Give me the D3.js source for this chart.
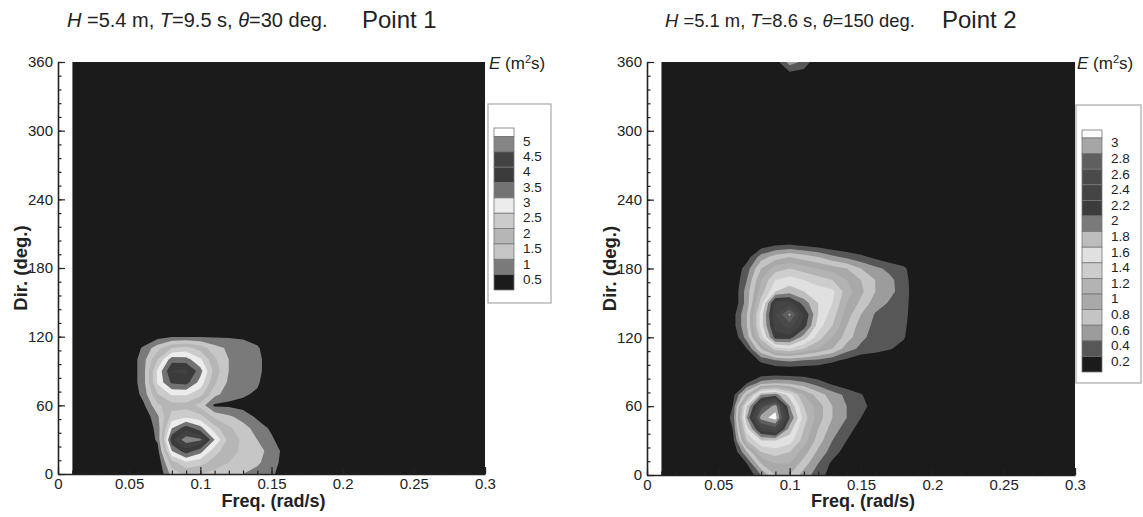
<!DOCTYPE html>
<html lang="en">
<head>
<meta charset="UTF-8">
<title>Directional wave spectra</title>
<script src="https://d3js.org/d3.v7.min.js"></script>
<style>
  body { margin: 0; background: #fff; }
  text { font-family: "Liberation Sans", Arial, sans-serif; fill: #222; }
</style>
</head>
<body>
<script>
// ---- data ----
// spectral energy E (m^2 s) sampled every 0.01 rad/s and every 10 deg; cells not listed are 0
const freq1 = [0.04, 0.05, 0.06, 0.07, 0.08, 0.09, 0.10, 0.11, 0.12, 0.13, 0.14, 0.15, 0.16, 0.17, 0.18];
const dir1 = [120, 110, 100, 90, 80, 70, 60, 50, 40, 30, 20, 10, 0];
const energy1 = [
  [0, 0, 0,   0.3, 0.45, 0.45, 0.45, 0.45, 0.45, 0.4,  0.2, 0,   0,   0, 0],
  [0, 0, 0.6, 1.3, 2.0,  2.2,  1.8,  1.2,  0.9,  0.8,  0.6, 0,   0,   0, 0],
  [0, 0.1, 0.8, 2.0, 3.3, 3.2, 2.6,  1.6,  1.0,  0.8,  0.7, 0.1, 0,   0, 0],
  [0, 0.1, 0.8, 2.6, 4.0, 4.2, 3.2,  1.8,  1.0,  0.8,  0.7, 0.1, 0,   0, 0],
  [0, 0.1, 0.8, 2.6, 3.6, 3.7, 2.8,  1.6,  0.9,  0.75, 0.6, 0,   0,   0, 0],
  [0, 0, 0.7, 2.0, 2.6,  2.6,  2.2,  1.2,  0.7,  0.6,  0.4, 0,   0,   0, 0],
  [0, 0, 0.4, 1.4, 1.8,  1.8,  1.3,  0.4,  0.4,  0.3,  0.1, 0,   0,   0, 0],
  [0, 0, 0.1, 0.9, 2.2,  2.4,  2.2,  1.4,  1.1,  0.8,  0.4, 0.1, 0,   0, 0],
  [0, 0, 0,   0.7, 3.0,  3.8,  3.2,  2.2,  1.6,  1.2,  0.8, 0.4, 0,   0, 0],
  [0, 0, 0,   0.6, 3.9,  4.8,  4.6,  3.0,  1.8,  1.4,  1.0, 0.6, 0.1, 0, 0],
  [0, 0, 0,   0.3, 3.0,  3.8,  3.2,  2.2,  1.7,  1.4,  1.2, 0.8, 0.3, 0, 0],
  [0, 0, 0,   0.1, 1.8,  2.4,  2.2,  1.8,  1.5,  1.3,  1.1, 0.7, 0.3, 0, 0],
  [0, 0, 0,   0,   1.2,  1.6,  1.5,  1.3,  1.1,  1.0,  0.8, 0.6, 0.2, 0, 0]
];

const freq2 = [0.05, 0.06, 0.07, 0.08, 0.09, 0.10, 0.11, 0.12, 0.13, 0.14, 0.15, 0.16, 0.17, 0.18, 0.19];
const dir2 = [360, 350, 200, 190, 180, 170, 160, 150, 140, 130, 120, 110, 100, 80, 70, 60, 50, 40, 30, 20, 10, 0];
const energy2 = [
  [0, 0,    0,   0,    0.1,  0.5,  0.35, 0,    0,    0,    0,    0,    0,    0,    0],
  [0, 0,    0,   0,    0,    0.15, 0.1,  0,    0,    0,    0,    0,    0,    0,    0],
  [0, 0,    0,   0.1,  0.2,  0.22, 0.18, 0.12, 0.06, 0,    0,    0,    0,    0,    0],
  [0, 0,    0.1, 0.5,  0.7,  0.8,  0.7,  0.6,  0.45, 0.35, 0.25, 0.15, 0.05, 0,    0],
  [0, 0,    0.3, 0.8,  1.1,  1.2,  1.1,  1.0,  0.9,  0.8,  0.6,  0.45, 0.35, 0.25, 0],
  [0, 0,    0.4, 1.0,  1.4,  1.5,  1.4,  1.3,  1.2,  1.0,  0.8,  0.6,  0.45, 0.3,  0],
  [0, 0,    0.5, 1.1,  1.6,  1.7,  1.6,  1.5,  1.45, 1.1,  0.85, 0.6,  0.45, 0.32, 0],
  [0, 0,    0.5, 1.3,  2.3,  2.3,  1.9,  1.6,  1.4,  1.0,  0.75, 0.5,  0.38, 0.3,  0],
  [0, 0.1,  0.6, 1.5,  2.4,  2.85, 2.2,  1.6,  1.3,  0.9,  0.6,  0.38, 0.32, 0.28, 0],
  [0, 0.1,  0.6, 1.5,  2.3,  2.5,  2.1,  1.5,  1.2,  0.8,  0.5,  0.35, 0.3,  0.25, 0],
  [0, 0,    0.5, 1.3,  2.1,  2.1,  1.7,  1.3,  1.0,  0.7,  0.45, 0.32, 0.28, 0.22, 0],
  [0, 0,    0.2, 0.8,  1.3,  1.4,  1.2,  1.0,  0.8,  0.5,  0.35, 0.28, 0.22, 0.12, 0],
  [0, 0,    0,   0.25, 0.4,  0.45, 0.4,  0.35, 0.25, 0.15, 0.05, 0.05, 0,    0,    0],
  [0, 0,    0.2, 0.5,  0.6,  0.55, 0.45, 0.3,  0.15, 0.05, 0,    0,    0,    0,    0],
  [0, 0.1,  0.8, 1.8,  1.9,  1.5,  1.0,  0.7,  0.5,  0.35, 0.22, 0.05, 0,    0,    0],
  [0, 0.2,  1.6, 2.5,  2.9,  1.8,  1.2,  0.9,  0.6,  0.4,  0.28, 0.1,  0,    0,    0],
  [0, 0.25, 1.8, 2.9,  3.1,  2.0,  1.3,  0.9,  0.6,  0.4,  0.2,  0,    0,    0,    0],
  [0, 0.2,  1.5, 2.3,  2.5,  1.7,  1.2,  0.8,  0.5,  0.3,  0.1,  0,    0,    0,    0],
  [0, 0.1,  1.2, 1.6,  1.6,  1.5,  1.1,  0.7,  0.4,  0.2,  0,    0,    0,    0,    0],
  [0, 0,    0.6, 1.2,  1.3,  1.2,  0.9,  0.55, 0.3,  0.1,  0,    0,    0,    0,    0],
  [0, 0,    0.2, 0.8,  1.0,  1.0,  0.7,  0.4,  0.15, 0,    0,    0,    0,    0,    0],
  [0, 0,    0,   0.4,  0.8,  0.8,  0.5,  0.3,  0.1,  0,    0,    0,    0,    0,    0]
];

// contour levels (legend labels)
const levels1 = [0.5, 1, 1.5, 2, 2.5, 3, 3.5, 4, 4.5, 5];
const levels2 = [0.2, 0.4, 0.6, 0.8, 1, 1.2, 1.4, 1.6, 1.8, 2, 2.2, 2.4, 2.6, 2.8, 3];

const freqTicks = [0, 0.05, 0.1, 0.15, 0.2, 0.25, 0.3];
const dirTicks = [0, 60, 120, 180, 240, 300, 360];

// band fills, lowest band first
const fills1 = ["#1b1b1b", "#7a7a7a", "#c6c6c6", "#b6b6b6", "#cbcbcb", "#ececec",
                "#727272", "#3b3b3b", "#424242", "#858585", "#ffffff"];
const fills2 = ["#1b1b1b", "#575757", "#9c9c9c", "#c4c4c4", "#a9a9a9", "#b3b3b3", "#cdcdcd",
                "#e0e0e0", "#bdbdbd", "#7a7a7a", "#3c3c3c", "#444444", "#4a4a4a", "#5f5f5f",
                "#a6a6a6", "#fafafa"];

// grid: 0.01..0.30 rad/s, 0..360 deg
const NX = 30, NY = 37, F0 = 0.01, DF = 0.01, DD = 10;

function buildGrid(freqs, dirs, rows) {
  const v = new Array(NX * NY).fill(0);
  dirs.forEach((d, r) => {
    const j = Math.round(d / DD);
    freqs.forEach((f, c) => {
      const i = Math.round((f - F0) / DF);
      v[j * NX + i] = rows[r][c];
    });
  });
  return v;
}

const svg = d3.select("body").append("svg")
  .attr("width", 1143)
  .attr("height", 517);

const panels = [
  { id: "p1", x0: 58, x1: 485, y0: 474, y1: 62, grid: buildGrid(freq1, dir1, energy1),
    levels: levels1, fills: fills1, H: "5.4", T: "9.5", th: "30", point: "Point 1",
    titleX: 67, titleSize: 20, pointX: 362,
    legend: { x: 488, y: 104, w: 63, h: 199, top: 128, white: 8.5, bottom: 290 } },
  { id: "p2", x0: 647, x1: 1075, y0: 475, y1: 62, grid: buildGrid(freq2, dir2, energy2),
    levels: levels2, fills: fills2, H: "5.1", T: "8.6", th: "150", point: "Point 2",
    titleX: 665, titleSize: 18.4, pointX: 942,
    legend: { x: 1076, y: 105, w: 65, h: 278, top: 130, white: 8, bottom: 372 } }
];

panels.forEach(p => {
  const x = d3.scaleLinear().domain([0, 0.3]).range([p.x0, p.x1]);
  const y = d3.scaleLinear().domain([0, 360]).range([p.y0, p.y1]);
  const g = svg.append("g");

  // clip to data area
  svg.append("clipPath").attr("id", "clip-" + p.id)
    .append("rect")
    .attr("x", x(F0)).attr("y", y(360))
    .attr("width", x(0.3) - x(F0)).attr("height", y(0) - y(360));

  const plot = g.append("g").attr("clip-path", `url(#clip-${p.id})`);
  plot.append("rect")
    .attr("x", x(F0)).attr("y", y(360))
    .attr("width", x(0.3) - x(F0)).attr("height", y(0) - y(360))
    .attr("fill", p.fills[0]);

  const proj = d3.geoTransform({
    point: function (cx, cy) {
      this.stream.point(x(F0 + (cx - 0.5) * DF), y((cy - 0.5) * DD));
    }
  });
  const path = d3.geoPath(proj);
  const contours = d3.contours().size([NX, NY]).thresholds(p.levels)(p.grid);

  plot.selectAll("path")
    .data(contours)
    .join("path")
    .attr("d", path)
    .attr("fill", (d, i) => p.fills[i + 1]);

  // axes
  g.append("g").attr("transform", `translate(${x(0)},0)`)
    .call(d3.axisLeft(y).tickValues(dirTicks).tickSize(-7).tickSizeOuter(0).tickPadding(5));
  g.append("g").attr("transform", `translate(${x(0)},0)`)
    .call(d3.axisLeft(y).tickValues(d3.range(0, 361, 12)).tickSize(-3.5).tickFormat(""))
    .call(a => a.select(".domain").remove());

  g.append("g").attr("transform", `translate(0,${y(0)})`)
    .call(d3.axisBottom(x).tickValues(freqTicks).tickSize(-7).tickSizeOuter(0).tickPadding(4)
      .tickFormat(d => String(+d.toFixed(2))));
  g.append("g").attr("transform", `translate(0,${y(0)})`)
    .call(d3.axisBottom(x).tickValues(d3.range(0, 0.301, 0.01)).tickSize(-3.5).tickFormat(""))
    .call(a => a.select(".domain").remove());

  g.selectAll(".domain").attr("stroke", "#222").attr("stroke-width", 1.6);
  g.selectAll(".tick line").attr("stroke", "#222").attr("stroke-width", 1.2);
  g.selectAll(".tick text").attr("font-size", 15).attr("fill", "#333")
    .attr("font-family", "'Liberation Sans', Arial, sans-serif");

  // axis titles
  g.append("text")
    .attr("x", (x(0) + x(0.3)) / 2 + 2).attr("y", 507)
    .attr("text-anchor", "middle").attr("font-size", 18).attr("font-weight", "bold")
    .text("Freq. (rad/s)");
  g.append("text")
    .attr("transform", `translate(${x(0) - 31},${(y(0) + y(360)) / 2}) rotate(-90)`)
    .attr("text-anchor", "middle").attr("font-size", 18.5).attr("font-weight", "bold")
    .text("Dir. (deg.)");

  // title line
  const t = g.append("text").attr("x", p.titleX).attr("y", 27).attr("font-size", p.titleSize);
  t.append("tspan").attr("font-style", "italic").text("H");
  t.append("tspan").text(` =${p.H} m, `);
  t.append("tspan").attr("font-style", "italic").text("T");
  t.append("tspan").text(`=${p.T} s, `);
  t.append("tspan").attr("font-style", "italic").text("\u03B8");
  t.append("tspan").text(`=${p.th} deg.`);
  g.append("text").attr("x", p.pointX).attr("y", 28).attr("font-size", 24).text(p.point);

  // legend
  const L = p.legend;
  const e = g.append("text").attr("x", L.x + 1).attr("y", 69).attr("font-size", 17);
  e.append("tspan").attr("font-style", "italic").text("E");
  e.append("tspan").text(" (m");
  e.append("tspan").attr("font-size", 11).attr("dy", -6).text("2");
  e.append("tspan").attr("dy", 6).text("s)");

  g.append("rect")
    .attr("x", L.x).attr("y", L.y).attr("width", L.w).attr("height", L.h)
    .attr("fill", "#fff").attr("stroke", "#a8a8a8").attr("stroke-width", 1.2);

  const n = p.levels.length;
  const sx = L.x + 6, sw = 20;
  const sh = (L.bottom - L.top - L.white) / n;
  g.append("rect")
    .attr("x", sx).attr("y", L.top).attr("width", sw).attr("height", L.white)
    .attr("fill", p.fills[n]).attr("stroke", "#777").attr("stroke-width", 0.8);
  const lv = p.levels.slice().reverse();
  lv.forEach((v, k) => {
    const yy = L.top + L.white + k * sh;
    g.append("rect")
      .attr("x", sx).attr("y", yy).attr("width", sw).attr("height", sh)
      .attr("fill", p.fills[n - 1 - k]).attr("stroke", "#777").attr("stroke-width", 0.8);
    g.append("text")
      .attr("x", sx + sw + 9).attr("y", yy + sh / 2 - 2)
      .attr("dominant-baseline", "middle")
      .attr("font-size", 13.5).attr("fill", "#222")
      .text(v);
  });
});
</script>
</body>
</html>
